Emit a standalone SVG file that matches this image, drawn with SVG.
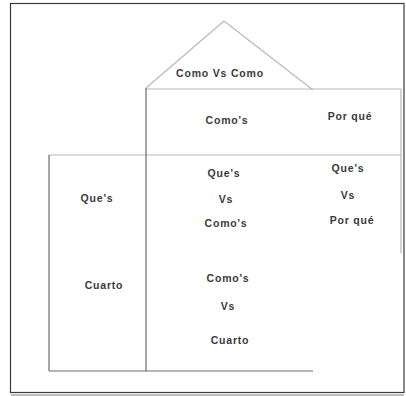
<svg xmlns="http://www.w3.org/2000/svg" width="406" height="396" viewBox="0 0 406 396">
<style>
.t{font-family:"Liberation Sans",Arial,sans-serif;font-size:10.5px;font-weight:bold;fill:#3a3a3a;text-anchor:middle;letter-spacing:0.8px}
.ln{stroke:#6a6a6a;stroke-width:1.2;fill:none}
.lt{stroke:#b8b8b8;stroke-width:1.2;fill:none}
</style>
<rect x="0" y="0" width="406" height="396" fill="#ffffff"/>
<rect x="11" y="394" width="393" height="2" fill="#bdbdbd"/>
<rect x="10.5" y="3.5" width="393.5" height="389" fill="#ffffff" stroke="#3a3a3a" stroke-width="1.2"/>
<g id="connectors">
<polyline class="lt" points="146,88 224,21 313,90"/>
<line class="lt" x1="146" y1="89" x2="401" y2="89"/>
<line class="lt" x1="49" y1="155" x2="401" y2="155"/>
<line class="ln" x1="146" y1="88" x2="146" y2="371"/>
<line class="ln" x1="49" y1="155" x2="49" y2="371"/>
<line class="lt" x1="401" y1="89" x2="401" y2="253"/>
<line class="ln" x1="49" y1="371" x2="313" y2="371"/>
</g>
<g id="roof"><text class="t" x="220" y="77">Como Vs Como</text></g>
<g id="comos"><text class="t" x="227" y="124">Como's</text></g>
<g id="porque"><text class="t" x="350" y="120">Por qué</text></g>
<g id="ques"><text class="t" x="97" y="202">Que's</text></g>
<g id="cuarto"><text class="t" x="104" y="289">Cuarto</text></g>
<g id="ques-vs-comos">
<text class="t" x="224" y="177">Que's</text>
<text class="t" x="226" y="203">Vs</text>
<text class="t" x="226" y="227">Como's</text>
</g>
<g id="comos-vs-cuarto">
<text class="t" x="228" y="282">Como's</text>
<text class="t" x="228" y="310">Vs</text>
<text class="t" x="230" y="344">Cuarto</text>
</g>
<g id="ques-vs-porque">
<text class="t" x="348" y="172">Que's</text>
<text class="t" x="348" y="199">Vs</text>
<text class="t" x="352" y="224">Por qué</text>
</g>
</svg>
